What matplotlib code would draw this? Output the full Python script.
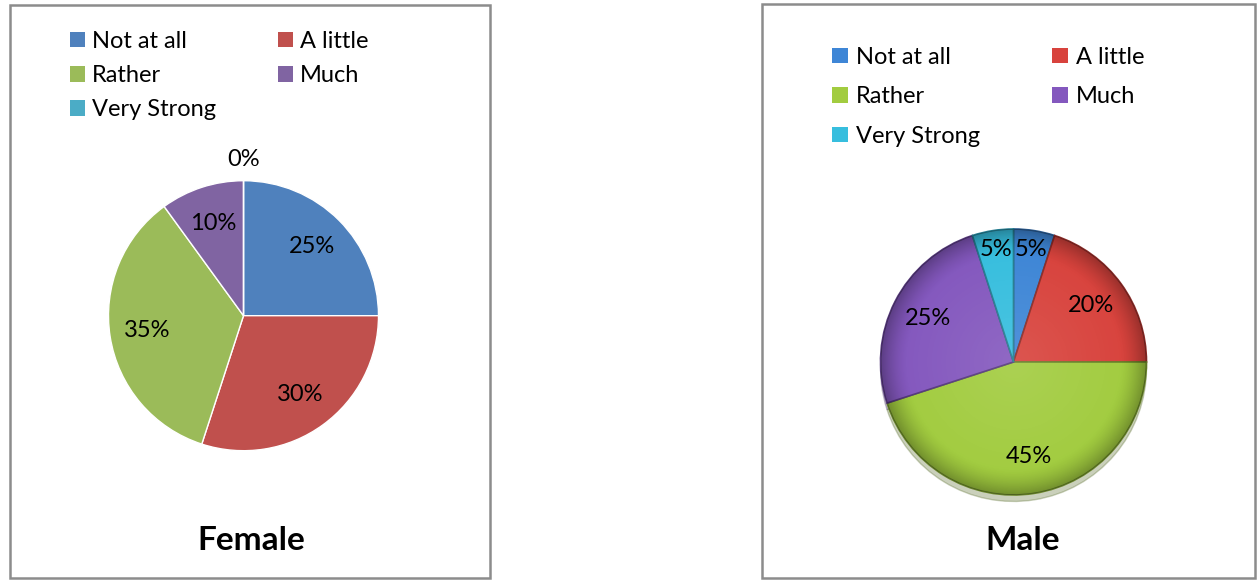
import matplotlib
matplotlib.use("Agg")
import matplotlib.pyplot as plt
from matplotlib.patches import Rectangle, Circle
import matplotlib.colors as mcolors
import numpy as np

categories = ["Not at all", "A little", "Rather", "Much", "Very Strong"]
female_values = [25, 30, 35, 10, 0]
male_values = [5, 20, 45, 25, 5]
female_colors = ["#4F81BD", "#C0504D", "#9BBB59", "#8064A2", "#4BACC6"]
male_colors = ["#3E86D6", "#D8433D", "#A2CC40", "#8458BE", "#37BEDE"]
titles = ["Female", "Male"]

W, H = 1257, 580
plt.rcParams['font.family'] = ['Lato', 'DejaVu Sans']
fig = plt.figure(figsize=(W / 100, H / 100), dpi=100)


def fx(px):
    return px / W


def fy(py):
    return 1 - py / H


def darker(c, f=0.6):
    r, g, b = mcolors.to_rgb(c)
    return (r * f, g * f, b * f)


# panel borders
for (x0, y0, x1, y1) in [(10, 5, 490, 578), (762, 4, 1255, 578)]:
    fig.patches.append(Rectangle((fx(x0), fy(y1)), fx(x1 - x0), (y1 - y0) / H,
                                 transform=fig.transFigure, fill=False,
                                 edgecolor="#8c8c8c", linewidth=1.8))


def draw_pie(cx, cy, r, values, colors, small_dist, zero_dist, shaded):
    ax = fig.add_axes([fx(cx - r), fy(cy + r), 2 * r / W, 2 * r / H])
    wedges, texts, autotexts = ax.pie(
        values, colors=colors, startangle=90, counterclock=False,
        autopct=lambda p: f"{p:.0f}%", pctdistance=0.72,
        wedgeprops=dict(edgecolor="white", linewidth=1.0),
        textprops=dict(fontsize=17, color="black"),
        shadow=dict(ox=0, oy=-0.035, shade=0.5, alpha=0.3) if shaded else False)
    for w, t, v in zip(wedges, autotexts, values):
        ang = np.deg2rad((w.theta1 + w.theta2) / 2)
        if v == 0:
            d = zero_dist
        elif v <= 5:
            d = small_dist
        else:
            d = 0.72
        t.set_position((d * np.cos(ang), d * np.sin(ang)))
        t.set_zorder(10)
    if shaded:
        for w, c in zip(wedges, colors):
            w.set_edgecolor(darker(c, 0.65))
            w.set_linewidth(1.2)
        n = 400
        g = np.linspace(-1, 1, n)
        X, Y = np.meshgrid(g, g)
        R = np.sqrt(X ** 2 + Y ** 2)
        alpha = np.clip((R - 0.80) / 0.20, 0, 1) ** 1.5 * 0.30
        img = np.zeros((n, n, 4))
        img[..., 3] = alpha
        im = ax.imshow(img, extent=(-1, 1, -1, 1), origin="lower", zorder=5,
                       interpolation="bilinear")
        im.set_clip_path(Circle((0, 0), 1.0, transform=ax.transData))
        hl = np.clip(1 - R / 0.9, 0, 1) * 0.10
        img2 = np.ones((n, n, 4))
        img2[..., 3] = hl
        ax.imshow(img2, extent=(-1, 1, -1, 1), origin="lower", zorder=5,
                  interpolation="bilinear")
    ax.set_xlim(-1, 1)
    ax.set_ylim(-1, 1)
    ax.set_aspect('equal')
    ax.axis('off')
    return wedges


wf = draw_pie(243.5, 315.7, 135, female_values, female_colors, 0.85, 1.16, False)
wm = draw_pie(1013.5, 362, 133, male_values, male_colors, 0.86, 1.16, True)

col1 = [0, 2, 4]
col2 = [1, 3]
for wedges, xs, ytop, rs, hl in [
    (wf, (70, 278), 31, 0.56, 0.62),
    (wm, (832, 1052), 47, 0.78, 0.68),
]:
    for col, x in zip((col1, col2), xs):
        leg = fig.legend([wedges[i] for i in col], [categories[i] for i in col],
                         loc="upper left", bbox_to_anchor=(fx(x), fy(ytop)),
                         frameon=False, fontsize=17, handlelength=hl,
                         handleheight=0.62, handletextpad=0.32, labelspacing=rs,
                         borderaxespad=0, borderpad=0)
        for h in leg.legend_handles:
            h.set_edgecolor("none")

fig.text(fx(251), fy(540), titles[0], fontsize=24, fontweight="bold",
         ha="center", va="center")
fig.text(fx(1023), fy(540), titles[1], fontsize=24, fontweight="bold",
         ha="center", va="center")

fig.savefig("out.png", dpi=100)
